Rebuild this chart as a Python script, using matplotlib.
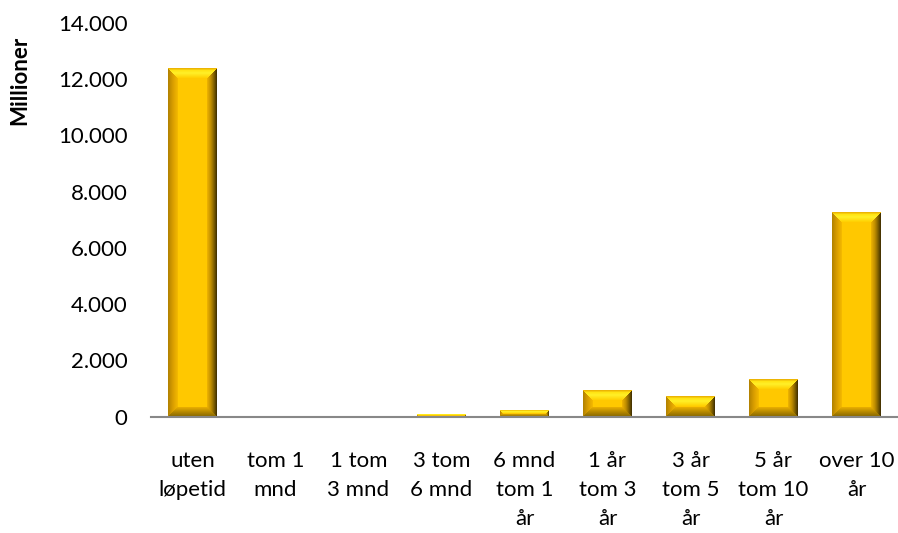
import numpy as np
import matplotlib.pyplot as plt

# maturity buckets and amounts (millions)
categories = ["uten\nløpetid", "tom 1\nmnd", "1 tom\n3 mnd", "3 tom\n6 mnd", "6 mnd\ntom 1\når",
              "1 år\ntom 3\når", "3 år\ntom 5\når", "5 år\ntom 10\når", "over 10\når"]
values = [12390, 3, 8, 95, 240, 950, 735, 1340, 7270]
yticks = [0, 2000, 4000, 6000, 8000, 10000, 12000, 14000]

plt.rcParams['font.family'] = ['Lato', 'DejaVu Sans']

fig = plt.figure(figsize=(8.98, 5.33), dpi=100)
ax = fig.add_axes([151 / 898, 1 - 416.7 / 533, 747 / 898, (416.7 - 23) / 533])

bar_w = 0.59
x = np.arange(len(values))
ax.set_xlim(-0.5, len(values) - 0.5)
ax.set_ylim(0, 14000)

# colour stops for each bevel edge, from the outer rim inwards
face = np.array([255, 200, 0])
stops = {
    "top": [(0, (232, 170, 0)), (0.25, (255, 228, 20)), (0.5, (255, 240, 40)), (1, (255, 206, 0))],
    "left": [(0, (176, 128, 0)), (0.5, (218, 158, 0)), (1, (245, 186, 0))],
    "right": [(0, (60, 44, 0)), (0.3, (128, 96, 0)), (0.6, (190, 140, 0)), (1, (240, 180, 0))],
    "bottom": [(0, (130, 100, 0)), (0.5, (180, 135, 0)), (1, (235, 175, 0))],
}


def ramp(name, t):
    ts = [s[0] for s in stops[name]]
    cs = np.array([s[1] for s in stops[name]], dtype=float)
    return np.stack([np.interp(t, ts, cs[:, k]) for k in range(3)], axis=-1)


def bevel_image(H, W, b=10.0):
    b = max(1.0, min(b, H / 2, W / 2))
    jj, ii = np.meshgrid(np.arange(W) + 0.5, np.arange(H) + 0.5)
    d = np.stack([ii, H - ii, jj, W - jj])  # top, bottom, left, right
    edge = np.argmin(d, axis=0)
    dmin = np.min(d, axis=0)
    img = np.tile(face.astype(float), (H, W, 1))
    for k, name in enumerate(["top", "bottom", "left", "right"]):
        m = (edge == k) & (dmin < b)
        img[m] = ramp(name, dmin[m] / b)
    return img / 255.0


# draw each bar as a bevelled image sized to its pixel footprint
fig.canvas.draw()
for xi, v in zip(x, values):
    p0 = ax.transData.transform((xi - bar_w / 2, 0))
    p1 = ax.transData.transform((xi + bar_w / 2, v))
    W = max(1, int(round(p1[0] - p0[0])))
    H = max(1, int(round(p1[1] - p0[1])))
    ax.imshow(bevel_image(H, W), extent=(xi - bar_w / 2, xi + bar_w / 2, 0, v),
              aspect='auto', interpolation='nearest', zorder=2)

ax.set_xlim(-0.5, len(values) - 0.5)
ax.set_ylim(0, 14000)

ax.set_yticks(yticks)
ax.set_yticklabels([f"{t:,.0f}".replace(",", ".") for t in yticks], fontsize=16, color="#000000")
ax.set_xticks(x)
ax.set_xticklabels(categories, fontsize=16, linespacing=1.55)
ax.tick_params(axis='y', length=0, pad=17)
ax.tick_params(axis='x', length=0, pad=25)

for s in ["top", "right", "left"]:
    ax.spines[s].set_visible(False)
ax.spines["bottom"].set_color("#888888")
ax.spines["bottom"].set_linewidth(1.5)
ax.spines["bottom"].set_zorder(3)

fig.text(20 / 898, 1 - 80 / 533, "Millioner", rotation=90, ha="center", va="center",
         fontsize=16, fontweight="bold")

fig.savefig("out.png", dpi=100)
